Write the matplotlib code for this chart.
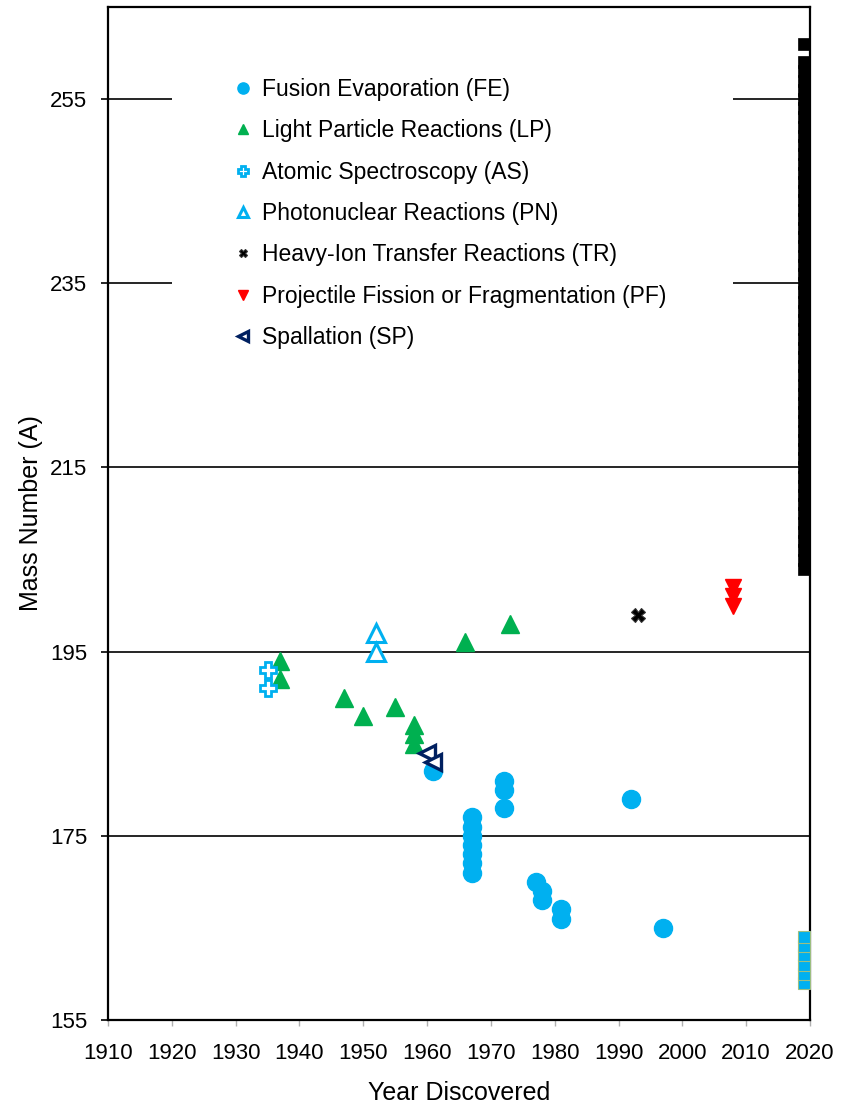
import numpy as np
import matplotlib
matplotlib.use("Agg")
import matplotlib.pyplot as plt
from matplotlib.patches import Rectangle

plt.rcParams['font.family'] = ['Liberation Sans', 'DejaVu Sans']

# discovery year / mass number for each production method
fe_year = [1961, 1967, 1967, 1967, 1967, 1967, 1967, 1967, 1972, 1972, 1972,
           1977, 1978, 1978, 1981, 1981, 1992, 1997]
fe_mass = [182, 171, 172, 173, 174, 175, 176, 177, 178, 180, 181,
           170, 168, 169, 166, 167, 179, 165]

lp_year = [1937, 1937, 1947, 1950, 1955, 1958, 1958, 1958, 1966, 1973]
lp_mass = [194, 192, 190, 188, 189, 185, 186, 187, 196, 198]

as_year = [1935, 1935]
as_mass = [193, 191]

pn_year = [1952, 1952]
pn_mass = [197, 195]

tr_year = [1993]
tr_mass = [199]

pf_year = [2008, 2008, 2008]
pf_mass = [200, 201, 202]

sp_year = [1960, 1961]
sp_mass = [184, 183]

# not yet observed isotopes, parked at the right edge
proton_rich = [159, 160, 161, 162, 163, 164]
neutron_rich = list(range(204, 260)) + [261]
undiscovered_year = 2019

blue = '#00B0F0'
green = '#00B050'
navy = '#002060'

fig = plt.figure(figsize=(8.41, 11.09), dpi=100)
ax = fig.add_axes([0.1284, 0.0803, 0.8347, 0.9134])

ax.plot(fe_year, fe_mass, 'o', ms=13, color=blue, mec=blue, ls='none',
        label='Fusion Evaporation (FE)', zorder=4)
ax.plot(lp_year, lp_mass, '^', ms=12.5, color=green, mec=green, ls='none',
        label='Light Particle Reactions (LP)', zorder=4)
ax.plot(as_year, as_mass, 'P', ms=12, mfc='white', mec=blue, mew=2, ls='none',
        label='Atomic Spectroscopy (AS)', zorder=4)
ax.plot(pn_year, pn_mass, '^', ms=12.5, mfc='white', mec=blue, mew=2.2, ls='none',
        label='Photonuclear Reactions (PN)', zorder=4)
ax.plot(tr_year, tr_mass, 'X', ms=10, color='black', mec='#333333', mew=0.8, ls='none',
        label='Heavy-Ion Transfer Reactions (TR)', zorder=4)
ax.plot(pf_year, pf_mass, 'v', ms=12, color='red', mec='red', ls='none',
        label='Projectile Fission or Fragmentation (PF)', zorder=4)
ax.plot(sp_year, sp_mass, '<', ms=12, mfc='white', mec=navy, mew=2.4, ls='none',
        label='Spallation (SP)', zorder=5)

ax.plot([undiscovered_year] * len(proton_rich), proton_rich, 's', ms=8,
        color=blue, mec='#9DBF80', mew=0.8, ls='none', zorder=4)
ax.plot([undiscovered_year] * len(neutron_rich), neutron_rich, 's', ms=8,
        color='black', mec='black', mew=0.5, ls='none', zorder=4)

ax.set_xlim(1910, 2020)
ax.set_ylim(155, 265)
ax.set_xticks(np.arange(1910, 2021, 10))
ax.set_yticks(np.arange(155, 256, 20))
ax.yaxis.grid(True, color='black', lw=1.2)
ax.set_axisbelow(True)

for s in ax.spines.values():
    s.set_color('black')
    s.set_linewidth(1.6)

ax.tick_params(axis='y', direction='out', length=5, width=1.2, color='black',
               labelsize=16, pad=10)
ax.tick_params(axis='x', direction='out', length=4.5, width=1, color='#b0b0b0',
               labelsize=16, pad=12)

ax.set_xlabel('Year Discovered', fontsize=18, labelpad=12)
ax.set_ylabel('Mass Number (A)', fontsize=18, labelpad=5)

# white panel behind the legend hides the grid lines
ax.add_patch(Rectangle((0.0913, 0.66), 0.7995, 0.30, transform=ax.transAxes,
                       facecolor='white', edgecolor='none', zorder=2))

leg = ax.legend(loc='upper left', bbox_to_anchor=(0.176, 0.930), frameon=False,
                fontsize=16.5, markerscale=0.62, handlelength=1.0,
                handletextpad=0.33, labelspacing=0.8, borderpad=0,
                borderaxespad=0)
leg.set_zorder(6)

plt.savefig('out.png', dpi=100)
